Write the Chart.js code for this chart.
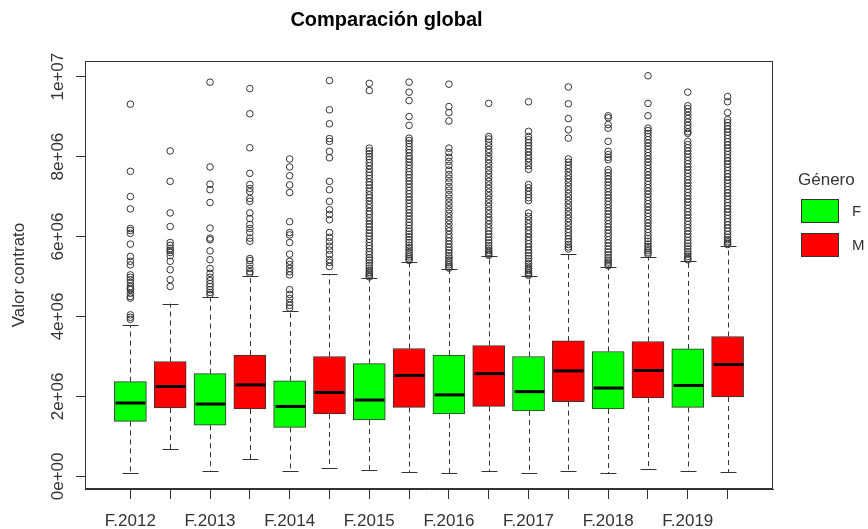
<!DOCTYPE html>
<html>
<head>
<meta charset="utf-8">
<script src="https://cdn.jsdelivr.net/npm/chart.js@4/dist/chart.umd.min.js"></script>
<style>
  html, body { margin: 0; padding: 0; background: #ffffff; }
  #wrap { width: 868px; height: 529px; }
</style>
</head>
<body>
<div id="wrap"><canvas id="chart" width="868" height="529"></canvas></div>
<script>
// Contract values by year and gender, in millions
const years = ['2012', '2013', '2014', '2015', '2016', '2017', '2018', '2019'];
const genders = ['F', 'M'];

// Five-number summaries (lower whisker, Q1, median, Q3, upper whisker)
const fLow = [0.085, 0.14, 0.14, 0.17, 0.085, 0.085, 0.085, 0.14];
const fQ1  = [1.375, 1.28, 1.225, 1.41, 1.56, 1.64, 1.685, 1.725];
const fMed = [1.836, 1.81, 1.75, 1.91, 2.04, 2.12, 2.21, 2.275];
const fQ3  = [2.37, 2.57, 2.39, 2.82, 3.035, 3.0, 3.125, 3.19];
const fHigh = [3.79, 4.475, 4.125, 4.96, 5.19, 5.02, 5.25, 5.4];

const mLow = [0.685, 0.435, 0.2, 0.11, 0.125, 0.14, 0.18, 0.11];
const mQ1  = [1.71, 1.685, 1.56, 1.725, 1.75, 1.87, 1.96, 1.985];
const mMed = [2.25, 2.29, 2.1, 2.525, 2.57, 2.64, 2.65, 2.8];
const mQ3  = [2.875, 3.035, 3.0, 3.2, 3.275, 3.39, 3.375, 3.5];
const mHigh = [4.32, 5.0, 5.06, 5.375, 5.525, 5.56, 5.5, 5.775];

// Outlying contracts, one list per year
const fOut = [
  [9.31, 7.63, 7.0, 6.69, 6.2, 6.15, 6.08, 5.81, 5.5, 5.38, 5.29, 5.04, 4.98, 4.92, 4.85, 4.75, 4.7, 4.67, 4.58, 4.5, 4.46, 4.04, 3.98, 3.93],
  [9.86, 7.74, 7.31, 7.17, 6.85, 6.21, 5.96, 5.92, 5.64, 5.42, 5.2, 5.08, 4.98, 4.9, 4.82, 4.75, 4.67, 4.6, 4.55],
  [7.94, 7.74, 7.52, 7.29, 7.1, 6.37, 6.1, 6.04, 5.85, 5.56, 5.38, 5.3, 5.2, 5.12, 5.04, 4.67, 4.55, 4.45, 4.35, 4.28, 4.21],
  [9.83, 9.65, 8.21, 8.14, 8.07, 8.0, 7.93, 7.85, 7.77, 7.68, 7.6, 7.53, 7.45, 7.36, 7.29, 7.21, 7.13, 7.04, 6.97, 6.89, 6.8, 6.72, 6.63, 6.56, 6.47, 6.39, 6.31, 6.24, 6.16, 6.08, 6.01, 5.93, 5.85, 5.77, 5.7, 5.62, 5.55, 5.47, 5.41, 5.34, 5.27, 5.21, 5.15, 5.1, 5.06, 5.02, 4.99],
  [9.81, 9.25, 9.1, 8.89, 8.21, 8.1, 7.98, 7.88, 7.78, 7.66, 7.55, 7.46, 7.36, 7.25, 7.16, 7.05, 6.96, 6.86, 6.77, 6.67, 6.58, 6.49, 6.4, 6.31, 6.22, 6.14, 6.05, 5.97, 5.89, 5.81, 5.73, 5.66, 5.59, 5.52, 5.46, 5.4, 5.34, 5.29, 5.24, 5.21],
  [9.37, 8.63, 8.5, 8.42, 8.35, 8.27, 8.2, 8.12, 8.03, 7.95, 7.86, 7.77, 7.68, 7.3, 7.22, 7.13, 7.05, 6.97, 6.9, 6.59, 6.5, 6.41, 6.32, 6.24, 6.15, 6.07, 5.98, 5.9, 5.82, 5.74, 5.66, 5.59, 5.52, 5.45, 5.38, 5.32, 5.26, 5.2, 5.15, 5.1, 5.06, 5.03],
  [9.02, 8.97, 8.8, 8.71, 8.38, 8.13, 8.05, 7.98, 7.92, 7.67, 7.6, 7.52, 7.44, 7.36, 7.28, 7.2, 7.12, 7.04, 6.96, 6.88, 6.8, 6.72, 6.64, 6.56, 6.48, 6.4, 6.32, 6.24, 6.16, 6.08, 6.0, 5.92, 5.84, 5.76, 5.68, 5.61, 5.54, 5.47, 5.41, 5.36, 5.31, 5.27],
  [9.61, 9.27, 9.2, 9.12, 9.03, 8.95, 8.86, 8.78, 8.7, 8.62, 8.58, 8.38, 8.3, 8.22, 8.14, 8.06, 7.98, 7.9, 7.82, 7.74, 7.66, 7.58, 7.5, 7.42, 7.34, 7.26, 7.18, 7.1, 7.02, 6.94, 6.86, 6.78, 6.7, 6.62, 6.54, 6.46, 6.38, 6.3, 6.22, 6.14, 6.06, 5.98, 5.9, 5.83, 5.76, 5.69, 5.62, 5.56, 5.5, 5.45, 5.42]
];
const mOut = [
  [8.14, 7.38, 6.59, 6.25, 5.85, 5.78, 5.7, 5.65, 5.6, 5.52, 5.38, 5.17, 4.92, 4.75],
  [9.7, 9.07, 8.22, 7.58, 7.3, 7.2, 7.12, 6.95, 6.88, 6.59, 6.45, 6.3, 6.2, 6.1, 5.96, 5.88, 5.45, 5.4, 5.3, 5.2, 5.12, 5.08],
  [9.9, 9.17, 8.82, 8.45, 8.38, 8.13, 7.97, 7.38, 7.17, 6.88, 6.67, 6.55, 6.42, 6.1, 5.98, 5.87, 5.76, 5.66, 5.55, 5.42, 5.35, 5.25],
  [9.86, 9.61, 9.4, 9.0, 8.78, 8.46, 8.4, 8.33, 8.25, 8.17, 8.1, 8.01, 7.94, 7.86, 7.78, 7.7, 7.62, 7.55, 7.47, 7.39, 7.31, 7.23, 7.15, 7.07, 6.99, 6.91, 6.83, 6.75, 6.67, 6.59, 6.51, 6.43, 6.35, 6.28, 6.2, 6.13, 6.06, 5.99, 5.92, 5.85, 5.78, 5.72, 5.66, 5.6, 5.54, 5.49, 5.44, 5.4],
  [9.33, 8.5, 8.44, 8.36, 8.27, 8.18, 8.1, 8.0, 7.92, 7.83, 7.74, 7.65, 7.56, 7.47, 7.38, 7.29, 7.2, 7.11, 7.02, 6.93, 6.84, 6.75, 6.66, 6.57, 6.48, 6.4, 6.31, 6.22, 6.14, 6.06, 5.98, 5.91, 5.84, 5.77, 5.71, 5.65, 5.6, 5.56, 5.53],
  [9.74, 9.32, 8.95, 8.67, 8.46, 7.94, 7.86, 7.78, 7.7, 7.61, 7.52, 7.44, 7.35, 7.26, 7.17, 7.08, 6.99, 6.9, 6.81, 6.72, 6.63, 6.54, 6.45, 6.36, 6.27, 6.18, 6.1, 6.02, 5.94, 5.87, 5.8, 5.74, 5.69],
  [10.02, 9.33, 9.02, 8.71, 8.65, 8.58, 8.5, 8.42, 8.34, 8.26, 8.18, 8.1, 8.02, 7.94, 7.86, 7.78, 7.7, 7.62, 7.54, 7.46, 7.38, 7.3, 7.22, 7.14, 7.06, 6.98, 6.9, 6.82, 6.74, 6.66, 6.58, 6.5, 6.42, 6.34, 6.26, 6.18, 6.1, 6.02, 5.95, 5.88, 5.81, 5.75, 5.69, 5.64, 5.59, 5.55],
  [9.5, 9.37, 9.1, 8.92, 8.85, 8.77, 8.69, 8.61, 8.53, 8.45, 8.37, 8.29, 8.21, 8.13, 8.05, 7.97, 7.89, 7.81, 7.73, 7.65, 7.57, 7.49, 7.41, 7.33, 7.25, 7.17, 7.09, 7.01, 6.93, 6.85, 6.77, 6.69, 6.61, 6.53, 6.45, 6.37, 6.29, 6.21, 6.13, 6.05, 5.98, 5.92, 5.87, 5.83, 5.8]
];

// Axis ticks
const yTickValues = [0, 2, 4, 6, 8, 10];
const yTickLabels = ['0e+00', '2e+06', '4e+06', '6e+06', '8e+06', '1e+07'];

const GREEN = '#00ff00';
const RED = '#ff0000';
const INK = '#333333';
const FONT = "'Liberation Sans', Arial, Helvetica, sans-serif";

// Box positions: F and M of each year side by side (1, 2, 3, ...)
const fPos = years.map((_, i) => 2 * i + 1);
const mPos = years.map((_, i) => 2 * i + 2);
const categories = [];
years.forEach(yr => genders.forEach(g => categories.push(g + '.' + yr)));

const groups = [
  { pos: fPos, low: fLow, q1: fQ1, med: fMed, q3: fQ3, high: fHigh },
  { pos: mPos, low: mLow, q1: mQ1, med: mMed, q3: mQ3, high: mHigh }
];

const outlierPoints = (pos, lists) => {
  const pts = [];
  lists.forEach((vals, i) => vals.forEach(v => pts.push({ x: pos[i], y: v })));
  return pts;
};

// Whiskers, staples and medians, drawn through the chart scales
const boxParts = {
  id: 'boxParts',
  afterDatasetsDraw(chart) {
    const { ctx, scales: { x, y } } = chart;
    const halfBox = x.getPixelForValue(0.4) - x.getPixelForValue(0);
    const halfStaple = halfBox / 2;
    ctx.save();
    groups.forEach(g => {
      g.pos.forEach((p, i) => {
        const cx = Math.round(x.getPixelForValue(p)) + 0.5;
        const yLow = y.getPixelForValue(g.low[i]);
        const yQ1 = y.getPixelForValue(g.q1[i]);
        const yQ3 = y.getPixelForValue(g.q3[i]);
        const yHigh = y.getPixelForValue(g.high[i]);
        const yMed = y.getPixelForValue(g.med[i]);
        // dashed whiskers
        ctx.strokeStyle = INK;
        ctx.lineWidth = 1;
        ctx.setLineDash([5, 4]);
        ctx.beginPath();
        ctx.moveTo(cx, yQ3); ctx.lineTo(cx, yHigh);
        ctx.moveTo(cx, yQ1); ctx.lineTo(cx, yLow);
        ctx.stroke();
        // staples
        ctx.setLineDash([]);
        ctx.beginPath();
        ctx.moveTo(cx - halfStaple, Math.round(yHigh) + 0.5); ctx.lineTo(cx + halfStaple, Math.round(yHigh) + 0.5);
        ctx.moveTo(cx - halfStaple, Math.round(yLow) + 0.5); ctx.lineTo(cx + halfStaple, Math.round(yLow) + 0.5);
        ctx.stroke();
        // median
        ctx.strokeStyle = '#000000';
        ctx.lineWidth = 3;
        ctx.beginPath();
        ctx.moveTo(cx - halfBox + 1, yMed); ctx.lineTo(cx + halfBox - 1, yMed);
        ctx.stroke();
      });
    });
    ctx.restore();
  }
};

// Plot frame and side legend
const frameAndLegend = {
  id: 'frameAndLegend',
  afterDraw(chart) {
    const { ctx, chartArea: a } = chart;
    ctx.save();
    ctx.strokeStyle = INK;
    ctx.lineWidth = 1;
    ctx.strokeRect(Math.round(a.left) + 0.5, Math.round(a.top) + 0.5,
                   Math.round(a.right - a.left) - 1, Math.round(a.bottom - a.top) - 1);

    const lx = a.right + 25;
    ctx.fillStyle = INK;
    ctx.textBaseline = 'middle';
    ctx.textAlign = 'left';
    ctx.font = '17px ' + FONT;
    ctx.fillText('Género', lx, 180);
    const fills = [GREEN, RED];
    genders.forEach((g, i) => {
      const top = 199 + i * 34;
      ctx.fillStyle = fills[i];
      ctx.fillRect(lx + 3, top, 38, 24);
      ctx.strokeStyle = INK;
      ctx.strokeRect(lx + 3.5, top + 0.5, 37, 23);
      ctx.fillStyle = INK;
      ctx.font = '15px ' + FONT;
      ctx.fillText(g, lx + 54, top + 13);
    });
    ctx.restore();
  }
};

const boxDataset = (label, g, color) => ({
  type: 'bar',
  label: label,
  data: g.pos.map((p, i) => ({ x: p, y: [g.q1[i], g.q3[i]] })),
  backgroundColor: color,
  borderColor: INK,
  borderWidth: 1,
  borderSkipped: false,
  barThickness: 32,
  grouped: false,
  order: 2
});

const outlierDataset = (label, pts) => ({
  type: 'scatter',
  label: label,
  data: pts,
  pointStyle: 'circle',
  pointRadius: 3.3,
  pointBorderWidth: 1,
  pointBorderColor: INK,
  pointBackgroundColor: 'rgba(0,0,0,0)',
  order: 1
});

new Chart(document.getElementById('chart'), {
  type: 'bar',
  data: {
    datasets: [
      boxDataset('F', groups[0], GREEN),
      boxDataset('M', groups[1], RED),
      outlierDataset('F', outlierPoints(fPos, fOut)),
      outlierDataset('M', outlierPoints(mPos, mOut))
    ]
  },
  options: {
    responsive: false,
    animation: false,
    layout: { padding: { left: 0, right: 95, top: 0, bottom: 0 } },
    plugins: {
      legend: { display: false },
      tooltip: { enabled: false },
      title: {
        display: true,
        text: 'Comparación global',
        color: '#000000',
        font: { family: FONT, size: 20, weight: 'bold' },
        padding: { top: 8, bottom: 29 }
      }
    },
    scales: {
      x: {
        type: 'linear',
        min: -0.14,
        max: 17.14,
        offset: false,
        afterBuildTicks: s => { s.ticks = categories.map((_, i) => ({ value: i + 1 })); },
        afterFit: s => { s.height = 40; },
        ticks: {
          autoSkip: false,
          maxRotation: 0,
          minRotation: 0,
          padding: 12,
          color: INK,
          font: { family: FONT, size: 17 },
          callback: (v, i) => (i % 2 === 0 ? categories[i] : '')
        },
        grid: { drawOnChartArea: false, drawTicks: true, tickLength: 10, color: INK, offset: false },
        border: { display: true, color: INK, width: 1 }
      },
      y: {
        type: 'linear',
        min: -0.315,
        max: 10.39,
        afterBuildTicks: s => { s.ticks = yTickValues.map(v => ({ value: v })); },
        afterFit: s => { s.width = 85; },
        ticks: {
          minRotation: 90,
          maxRotation: 90,
          crossAlign: 'center',
          padding: -6,
          color: INK,
          font: { family: FONT, size: 17 },
          callback: (v, i) => yTickLabels[i]
        },
        grid: { drawOnChartArea: false, drawTicks: true, tickLength: 9, color: INK },
        border: { display: true, color: INK, width: 1 },
        title: {
          display: true,
          text: 'Valor contrato',
          color: INK,
          font: { family: FONT, size: 17 },
          padding: { top: 9, bottom: 0 }
        }
      }
    }
  },
  plugins: [boxParts, frameAndLegend]
});
</script>
</body>
</html>
